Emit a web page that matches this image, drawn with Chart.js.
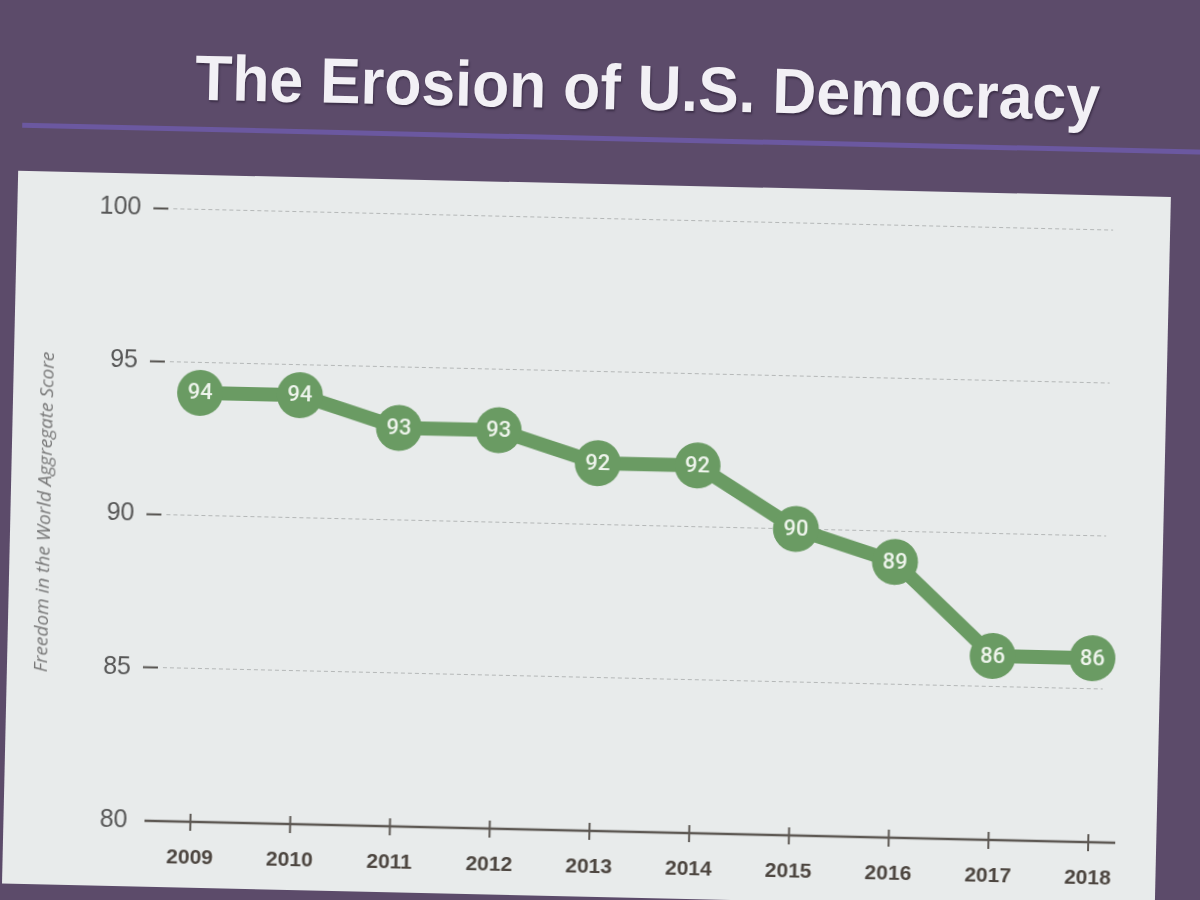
<!DOCTYPE html>
<html>
<head>
<meta charset="utf-8">
<script src="https://cdn.jsdelivr.net/npm/chart.js@4.4.1/dist/chart.umd.min.js"></script>
<style>
html,body{margin:0;padding:0;width:1200px;height:900px;overflow:hidden;background:#5c4b6a;}
#stage{position:absolute;left:0;top:0;width:1200px;height:900px;transform:rotate(1.3deg);transform-origin:600px 450px;}
#title{position:absolute;left:187px;top:55px;font:bold 64px "Liberation Sans",Arial,sans-serif;color:#f2f0f5;white-space:nowrap;line-height:1;transform-origin:0 0;text-shadow:1px 2px 2px rgba(30,20,40,0.5);}
#rule{position:absolute;left:15px;top:136px;width:1260px;height:5px;background:#6b58a0;}
#panel{position:absolute;left:12px;top:184px;width:1153px;height:713px;background:#e8ebeb;}
#cwrap{position:absolute;left:12px;top:184px;width:1153px;height:713px;}
</style>
</head>
<body>
<div id="stage">
  <div id="title">The Erosion of U.S. Democracy</div>
  <div id="rule"></div>
  <div id="panel"></div>
  <div id="cwrap"><canvas id="c" width="1153" height="713"></canvas></div>
</div>
<script>
// ---- data ----
const years = [2009, 2010, 2011, 2012, 2013, 2014, 2015, 2016, 2017, 2018];
const scores = [94, 94, 93, 93, 92, 92, 90, 89, 86, 86];
const yTicks = [80, 85, 90, 95, 100];
const yAxisTitle = 'Freedom in the World Aggregate Score';

// fit title width
(function(){
  const t = document.getElementById('title');
  const m = document.createElement('canvas').getContext('2d');
  m.font = 'bold 64px "Liberation Sans", Arial, sans-serif';
  const w = m.measureText(t.textContent).width;
  t.style.transform = 'scaleX(' + (905 / w) + ')';
})();

const green = '#6a9b63';

const pointLabels = {
  id: 'pointLabels',
  afterDatasetsDraw(chart) {
    const ctx = chart.ctx;
    const meta = chart.getDatasetMeta(0);
    ctx.save();
    ctx.fillStyle = '#eef4ec';
    ctx.font = '500 22px Roboto, "Liberation Sans", Arial, sans-serif';
    ctx.textAlign = 'center';
    ctx.textBaseline = 'middle';
    meta.data.forEach((pt, i) => ctx.fillText(String(scores[i]), pt.x, pt.y + 1));
    ctx.restore();
  }
};

const xAxisLine = {
  id: 'xAxisLine',
  beforeDatasetsDraw(chart) {
    const ctx = chart.ctx;
    const a = chart.chartArea;
    const xs = chart.scales.x;
    const y = a.bottom;
    ctx.save();
    ctx.strokeStyle = '#5d5853';
    ctx.lineWidth = 2.5;
    ctx.beginPath();
    ctx.moveTo(a.left - 15, y);
    ctx.lineTo(a.right + 16, y);
    ctx.stroke();
    ctx.lineWidth = 2;
    years.forEach(v => {
      const px = xs.getPixelForValue(v);
      ctx.beginPath();
      ctx.moveTo(px, y - 8);
      ctx.lineTo(px, y + 9);
      ctx.stroke();
    });
    ctx.restore();
  }
};

new Chart(document.getElementById('c'), {
  type: 'line',
  data: {
    datasets: [{
      data: years.map((yr, i) => ({ x: yr, y: scores[i] })),
      borderColor: green,
      backgroundColor: green,
      borderWidth: 14,
      pointRadius: 23,
      pointHoverRadius: 23,
      pointBackgroundColor: green,
      pointBorderWidth: 0,
      tension: 0,
      clip: false
    }]
  },
  options: {
    responsive: false,
    animation: false,
    events: [],
    layout: { padding: { top: 34, right: 57, left: 0, bottom: 0 } },
    plugins: { legend: { display: false }, tooltip: { enabled: false } },
    scales: {
      x: {
        type: 'linear',
        min: 2008.69,
        max: 2018.11,
        afterBuildTicks: s => { s.ticks = years.map(v => ({ value: v })); },
        afterFit: s => { s.height = 66; },
        grid: { display: false },
        border: { display: false },
        ticks: {
          autoSkip: false,
          maxRotation: 0,
          padding: 16,
          color: '#4d4640',
          font: { family: '"Liberation Sans", Arial, sans-serif', size: 21, weight: 'bold' },
          callback: v => String(v)
        }
      },
      y: {
        min: 80,
        max: 100,
        afterBuildTicks: s => { s.ticks = yTicks.map(v => ({ value: v })); },
        afterFit: s => { s.width = 156; },
        border: { display: false, dash: [4, 3] },
        grid: {
          color: c => c.tick && c.tick.value === 80 ? 'rgba(0,0,0,0)' : '#b4b7b7',
          lineWidth: 1,
          tickLength: 20,
          tickWidth: 2,
          tickBorderDash: [15, 10],
          tickColor: c => c.tick && c.tick.value === 80 ? 'rgba(0,0,0,0)' : '#55524f'
        },
        ticks: {
          padding: 12,
          color: '#575757',
          font: { family: '"Liberation Sans", Arial, sans-serif', size: 25 }
        },
        title: {
          display: true,
          text: yAxisTitle,
          color: '#777777',
          font: { family: '"Open Sans", sans-serif', size: 19, style: 'italic' },
          padding: { top: 23, bottom: 0 }
        }
      }
    }
  },
  plugins: [pointLabels, xAxisLine]
});
</script>
</body>
</html>
